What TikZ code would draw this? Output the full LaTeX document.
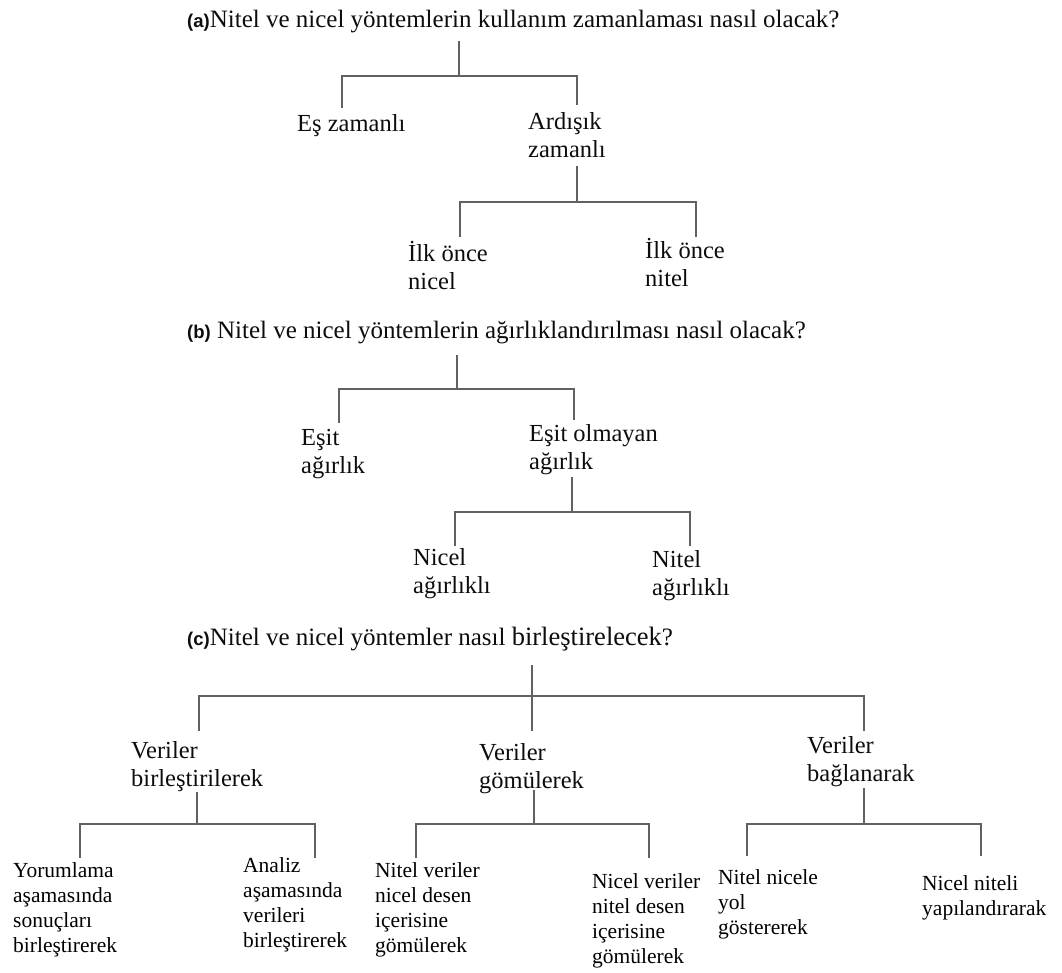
\documentclass[tikz,border=0pt]{standalone}
\usepackage{fontspec}
\setmainfont{Liberation Serif}
\setsansfont{Liberation Sans}
% left-aligned stack of lines whose baseline is the first line's baseline
\newcommand{\lns}[1]{\vtop{\let\\\cr\halign{##\hfil\cr#1\crcr}}}
\newcommand{\tagf}[1]{{\fontsize{18.5}{20}\selectfont\sffamily\bfseries #1}}
\begin{document}
\begin{tikzpicture}[x=1pt,y=-1pt,
  lbl/.style={anchor=base west, inner sep=0pt, text=black!95},
  ttl/.style={lbl, font=\fontsize{25}{29}\selectfont},
  mid/.style={lbl, font=\fontsize{24.5}{28}\selectfont},
  leaf/.style={lbl, font=\fontsize{21.5}{25}\selectfont, text=black},
  tree/.style={draw=black!62, line width=1.8pt}]
\fill[white] (0,0) rectangle (1062,973);
\useasboundingbox (0,0) rectangle (1062,973);

% ---------- (a) timing ----------
\node[ttl] (qa) at (187,28) {\tagf{(a)}Nitel ve nicel yöntemlerin kullanım zamanlaması nasıl olacak?};
\node[mid] (es)  at (297,132) {Eş zamanlı};
\node[mid] (ard) at (528,130) {\lns{Ardışık\\zamanlı}};
\node[mid] (ilk1) at (408,262) {\lns{İlk önce\\nicel}};
\node[mid] (ilk2) at (645,259) {\lns{İlk önce\\nitel}};

\coordinate (a0) at (459,41);  \coordinate (a1) at (459,76);
\coordinate (aL) at (342,108); \coordinate (aR) at (577,105);
\draw[tree] (a0) -- (a1);
\draw[tree] (aL) |- (a1) -| (aR);

\coordinate (b0) at (577,166); \coordinate (b1) at (577,202);
\coordinate (bL) at (460,237); \coordinate (bR) at (696,237);
\draw[tree] (b0) -- (b1);
\draw[tree] (bL) |- (b1) -| (bR);

% ---------- (b) weighting ----------
\node[ttl] (qb) at (187,338) {\tagf{(b)} Nitel ve nicel yöntemlerin ağırlıklandırılması nasıl olacak?};
\node[mid] (esit) at (301,445) {\lns{Eşit\\ağırlık}};
\node[mid] (esol) at (529,441) {\lns{Eşit olmayan\\ağırlık}};
\node[mid] (ncl)  at (413,565) {\lns{Nicel\\ağırlıklı}};
\node[mid] (ntl)  at (652,567) {\lns{Nitel\\ağırlıklı}};

\coordinate (c0) at (457,355); \coordinate (c1) at (457,389);
\coordinate (cL) at (339,423); \coordinate (cR) at (574,420);
\draw[tree] (c0) -- (c1);
\draw[tree] (cL) |- (c1) -| (cR);

\coordinate (d0) at (572,477); \coordinate (d1) at (572,512);
\coordinate (dL) at (455,546); \coordinate (dR) at (690,546);
\draw[tree] (d0) -- (d1);
\draw[tree] (dL) |- (d1) -| (dR);

% ---------- (c) integration ----------
\node[ttl] (qc) at (187,645) {\tagf{(c)}Nitel ve nicel yöntemler nasıl {\fontsize{26.5}{29}\selectfont birleştirelecek}?};
\node[mid] (vb)  at (131,758) {\lns{Veriler\\birleştirilerek}};
\node[mid] (vg)  at (479,760) {\lns{Veriler\\gömülerek}};
\node[mid] (vba) at (807,753) {\lns{Veriler\\bağlanarak}};

\coordinate (e0) at (532,665); \coordinate (e1) at (532,696);
\coordinate (eL) at (199,731); \coordinate (eM) at (532,731); \coordinate (eR) at (864,731);
\draw[tree] (e0) -- (eM);
\draw[tree] (eL) |- (e1) -| (eR);

\node[leaf] (yor) at (13,877)  {\lns{Yorumlama\\aşamasında\\sonuçları\\birleştirerek}};
\node[leaf] (ana) at (243,872) {\lns{Analiz\\aşamasında\\verileri\\birleştirerek}};
\node[leaf] (niv) at (375,877) {\lns{Nitel veriler\\nicel desen\\içerisine\\gömülerek}};
\node[leaf] (ncv) at (592,888) {\lns{Nicel veriler\\nitel desen\\içerisine\\gömülerek}};
\node[leaf] (nny) at (718,884) {\lns{Nitel nicele\\yol\\göstererek}};
\node[leaf] (nnt) at (922,890) {\lns{Nicel niteli\\yapılandırarak}};

\coordinate (f0) at (197,792); \coordinate (f1) at (197,824);
\coordinate (fL) at (80,858);  \coordinate (fR) at (315,858);
\draw[tree] (f0) -- (f1);
\draw[tree] (fL) |- (f1) -| (fR);

\coordinate (g0) at (534,790); \coordinate (g1) at (534,824);
\coordinate (gL) at (416,858); \coordinate (gR) at (649,858);
\draw[tree] (g0) -- (g1);
\draw[tree] (gL) |- (g1) -| (gR);

\coordinate (h0) at (864,788); \coordinate (h1) at (864,824);
\coordinate (hL) at (747,856); \coordinate (hR) at (981,856);
\draw[tree] (h0) -- (h1);
\draw[tree] (hL) |- (h1) -| (hR);
\end{tikzpicture}
\end{document}
